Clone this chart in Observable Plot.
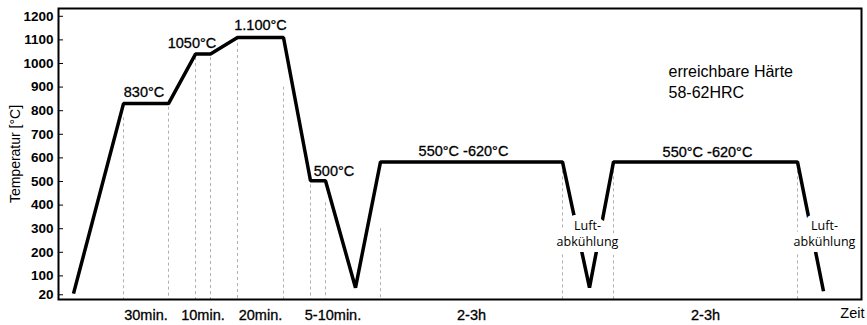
<!DOCTYPE html>
<html>
<head>
<meta charset="utf-8">
<script src="https://cdn.jsdelivr.net/npm/d3@7"></script>
<script src="https://cdn.jsdelivr.net/npm/@observablehq/plot@0.6"></script>
<style>
  html, body { margin: 0; padding: 0; background: #fff; }
  #chart svg { display: block; }
</style>
</head>
<body>
<div id="chart"></div>
<script>
// ---- data (schematic time units, temperature in °C) ----
const timeline    = [15, 65, 110, 137, 152, 179, 225, 252, 267, 297, 322, 504, 531, 555, 739, 765];
const temperature = [25, 830, 830, 1040, 1040, 1110, 1110, 503, 503, 50, 583, 583, 50, 583, 583, 35];

// plateau labels: [startIndex, endIndex] in the timeline
const plateauLabels = ["830°C", "1050°C", "1.100°C", "500°C", "550°C -620°C", "550°C -620°C"];
const plateauSpans  = [[1, 2], [3, 4], [5, 6], [7, 8], [10, 11], [13, 14]];

// phase durations shown under the axis: [startIndex, endIndex]
const phaseLabels = ["30min.", "10min.", "20min.", "5-10min.", "2-3h", "2-3h"];
const phaseSpans  = [[1, 2], [3, 4], [5, 6], [7, 9], [10, 11], [13, 14]];

// dashed guide lines: timeline index and temperature where the guide starts
const guideIndex = [1, 2, 3, 4, 5, 6, 7, 8, 10, 11, 13, 14];
const guideTop   = [770, 815, 1025, 1025, 1110, 900, 485, 410, 300, 545, 545, 545];

// air-cooling notes at the troughs (timeline index of the trough)
const coolingLabel = "Luft-\nabkühlung";
const coolingIndex = [12, 15];
const coolingTemp  = [282, 282];

const yTicks = [20, 100, 200, 300, 400, 500, 600, 700, 800, 900, 1000, 1100, 1200];
const noteText = "erreichbare Härte\n58-62HRC";

// ---- derived tables ----
const profile = timeline.map((t, i) => ({t, temp: temperature[i]}));
const plateaus = plateauLabels.map((label, i) => ({
  label,
  t: (timeline[plateauSpans[i][0]] + timeline[plateauSpans[i][1]]) / 2,
  temp: temperature[plateauSpans[i][0]]
}));
const phaseMid = phaseSpans.map(([a, b]) => (timeline[a] + timeline[b]) / 2);
const guides = guideIndex.map((idx, i) => ({t: timeline[idx], top: guideTop[i]}));
const cooling = coolingIndex.map((idx, i) => ({t: timeline[idx] + (i === 0 ? -2 : 1), temp: coolingTemp[i]}));

// per-label nudges (pixels) to match the reference placement
const labelDx = [-2, -11, 0, 16, -8, 2];
const labelDy = [-11, -11, -12, -9, -11, -10];

const sans = "'Liberation Sans', Arial, Helvetica, sans-serif";

const chart = Plot.plot({
  width: 867,
  height: 325,
  marginLeft: 58,
  marginRight: 6,
  marginTop: 8,
  marginBottom: 26,
  style: {fontFamily: sans, background: "#fff", color: "#000"},
  x: {domain: [0, 803]},
  y: {domain: [0, 1233]},
  marks: [
    Plot.ruleX(guides, {x: "t", y1: "top", y2: 0, stroke: "#b0b0b0", strokeWidth: 1, strokeDasharray: "3,3"}),
    Plot.line(profile, {x: "t", y: "temp", stroke: "#000", strokeWidth: 3.5, strokeLinejoin: "miter", strokeLinecap: "butt"}),
    ...plateaus.map((p, i) => Plot.text([p], {
      x: "t", y: "temp", text: "label", dx: labelDx[i], dy: labelDy[i],
      fontSize: 14.5, fill: "#000", stroke: "#000", strokeWidth: 0.3, fontFamily: sans
    })),
    Plot.text(cooling, {
      x: "t", y: "temp", text: () => coolingLabel, fontSize: 12.5, lineHeight: 1.3,
      fontFamily: "'Open Sans', sans-serif", fill: "#000",
      stroke: "#fff", strokeWidth: 12
    }),
    Plot.text([noteText], {
      frameAnchor: "top-left", dx: 610, dy: 54, textAnchor: "start", lineAnchor: "top",
      lineHeight: 1.3, fontSize: 16, fill: "#000", fontFamily: sans
    }),
    Plot.axisY({
      ticks: yTicks, tickSize: -5, tickPadding: 10, fontSize: 13.5, fontWeight: "bold",
      fontFamily: sans, tickFormat: (d) => String(d), label: null
    }),
    Plot.axisY({
      ticks: [], label: "Temperatur [°C]", labelAnchor: "center",
      labelArrow: "none", labelOffset: 48, fontSize: 14, fontFamily: sans
    }),
    Plot.axisX({
      ticks: phaseMid, tickSize: 0, tickPadding: 10, fontSize: 14.5,
      textStroke: "#000", textStrokeWidth: 0.3, fontFamily: sans,
      tickFormat: (d) => phaseLabels[phaseMid.indexOf(d)], label: null
    }),
    Plot.axisX({
      ticks: [], label: "Zeit", labelAnchor: "right", labelArrow: "none",
      labelOffset: 18, fontSize: 14.5, fontFamily: sans
    }),
    Plot.frame({stroke: "#000", strokeWidth: 2})
  ]
});
document.getElementById("chart").appendChild(chart);
</script>
</body>
</html>
